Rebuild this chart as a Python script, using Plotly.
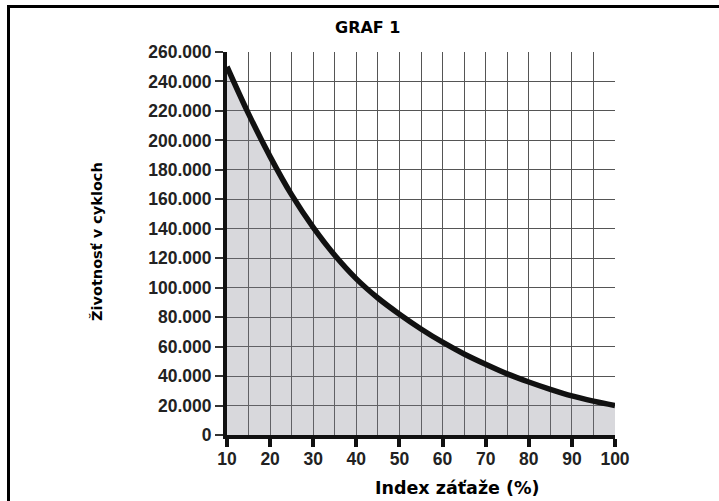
import plotly.graph_objects as go

# Data
load_index = [10, 15, 20, 25, 30, 35, 40, 45, 50, 55, 60, 65, 70, 75, 80, 85, 90, 95, 100]
life_cycles = [250000, 218000, 189000, 163000, 141000, 122000, 106000, 93000, 82000, 72000,
               63000, 55000, 48000, 41500, 36000, 31000, 26500, 23000, 20000]

title_text = "GRAF 1"
x_title = "Index záťaže (%)"
y_title = "Životnosť v cykloch"

W, H = 719, 501
L, R, T, B = 227, 104, 52, 66
pw = W - L - R
ph = H - T - B

def px2paper_x(px):
    return (px - L) / pw

def px2paper_y(py):
    return (H - B - py) / ph

fig = go.Figure()
fig.add_trace(go.Scatter(
    x=load_index, y=life_cycles, mode="lines",
    line=dict(color="#111111", width=5.5, shape="spline", smoothing=1.0),
    fill="tozeroy", fillcolor="rgba(125,125,138,0.30)",
    hoverinfo="skip", showlegend=False,
))

tick_font = dict(family="Liberation Sans, Arial, sans-serif", size=17.5, color="#222222", weight="bold")
title_font = dict(family="DejaVu Sans, Verdana, sans-serif", size=16, color="#000000", weight="bold")
xtitle_font = dict(family="DejaVu Sans, Verdana, sans-serif", size=17.5, color="#000000", weight="bold")
ytitle_font = dict(family="DejaVu Sans, Verdana, sans-serif", size=14.5, color="#000000", weight="bold")

fig.update_layout(
    width=W, height=H,
    margin=dict(l=L, r=R, t=T, b=B, pad=0),
    paper_bgcolor="white", plot_bgcolor="white",
    separators=",.",
    showlegend=False,
    xaxis=dict(
        range=[10, 100], tick0=10, dtick=10,
        ticks="outside", ticklen=8, tickwidth=4, tickcolor="#111111",
        showline=True, linecolor="#111111", linewidth=4,
        showgrid=True, gridcolor="#555555", gridwidth=1,
        minor=dict(dtick=5, tick0=10, showgrid=True, gridcolor="#555555", gridwidth=1, ticks=""),
        tickfont=tick_font, zeroline=False, ticklabelstandoff=-3,
    ),
    yaxis=dict(
        range=[0, 260000], tick0=0, dtick=20000, tickformat=",d",
        ticks="outside", ticklen=8, tickwidth=1.5, tickcolor="#333333",
        showline=True, linecolor="#111111", linewidth=4,
        showgrid=True, gridcolor="#555555", gridwidth=1,
        tickfont=tick_font, zeroline=False,
    ),
    yaxis2=dict(
        overlaying="y", side="left", range=[0, 260000], tick0=0, dtick=40000,
        ticks="outside", ticklen=8, tickwidth=4, tickcolor="#111111",
        showticklabels=False, showgrid=False, zeroline=False, showline=False,
    ),
    annotations=[
        dict(text=title_text, xref="paper", yref="paper", x=px2paper_x(367), y=px2paper_y(27.5),
             xanchor="center", yanchor="middle", showarrow=False, font=title_font),
        dict(text=x_title, xref="paper", yref="paper", x=px2paper_x(457), y=px2paper_y(488),
             xanchor="center", yanchor="middle", showarrow=False, font=xtitle_font),
        dict(text=y_title, xref="paper", yref="paper", x=px2paper_x(97), y=px2paper_y(242),
             xanchor="center", yanchor="middle", showarrow=False, textangle=-90, font=ytitle_font),
    ],
    shapes=[
        dict(type="rect", xref="paper", yref="paper",
             x0=px2paper_x(8.5), x1=px2paper_x(760), y0=px2paper_y(6.5), y1=px2paper_y(540),
             line=dict(color="black", width=3), fillcolor="rgba(0,0,0,0)", layer="above"),
    ],
)

fig.write_html("out.html", config={"displayModeBar": False},
               post_script="document.body.style.margin='0';document.body.style.overflow='hidden';")
